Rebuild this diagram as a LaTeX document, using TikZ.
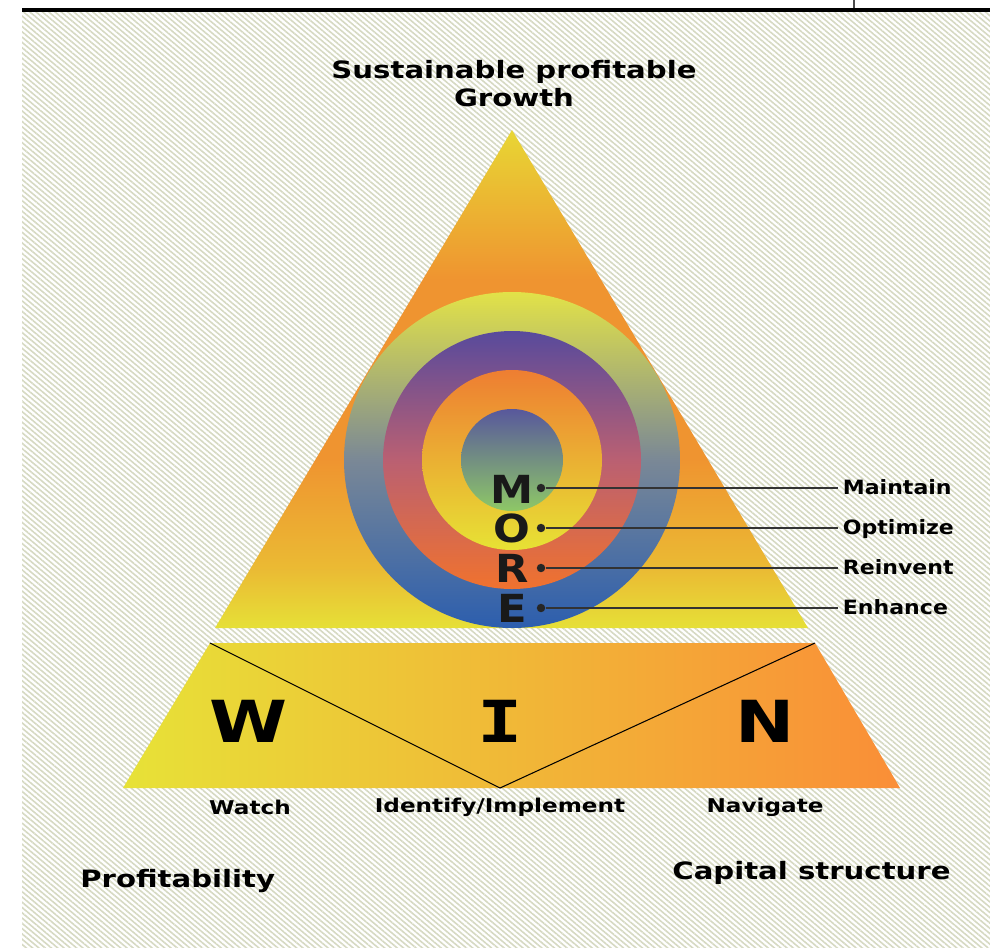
\documentclass[tikz,border=0pt]{standalone}
\usepackage{fontspec}
\setmainfont{DejaVu Sans}[FakeStretch=1.12]
\setmonofont{DejaVu Sans Mono}[FakeStretch=1.3]
\newfontfamily\widefont{DejaVu Sans}[FakeStretch=1.22]
\usetikzlibrary{patterns.meta}

\definecolor{hatch}{RGB}{214,217,194}
\definecolor{triY}{RGB}{232,214,52}
\definecolor{triO}{RGB}{239,148,48}
\definecolor{triB}{RGB}{230,224,55}
\definecolor{trapL}{RGB}{231,226,55}
\definecolor{trapR}{RGB}{250,142,55}
\definecolor{oneT}{RGB}{226,226,72}
\definecolor{oneM}{RGB}{122,136,150}
\definecolor{oneB}{RGB}{44,94,174}
\definecolor{twoT}{RGB}{88,74,156}
\definecolor{twoM}{RGB}{186,96,114}
\definecolor{twoB}{RGB}{240,114,46}
\definecolor{thrT}{RGB}{238,126,50}
\definecolor{thrB}{RGB}{231,226,52}
\definecolor{forT}{RGB}{88,88,156}
\definecolor{forB}{RGB}{142,200,102}
\pgfdeclareverticalshading{pyramid}{100bp}{color(0bp)=(triB); color(25bp)=(triB);
  color(31bp)=(triB!50!triO); color(42bp)=(triO); color(60bp)=(triO);
  color(69bp)=(triY!60!triO); color(75bp)=(triY); color(100bp)=(triY)}

\begin{document}
\begin{tikzpicture}[x=0.02cm,y=-0.02cm,
  big/.style={font=\widefont\fontsize{13.6pt}{16pt}\selectfont\bfseries,align=center},
  lbl/.style={font=\fontsize{11.2pt}{13pt}\selectfont\bfseries,anchor=west,
    inner sep=2.6pt,text height=0.73em,text depth=0pt},
  sub/.style={font=\widefont\fontsize{10.8pt}{12pt}\selectfont\bfseries},
  letter/.style={font=\fontsize{22pt}{24pt}\selectfont\bfseries,text=black!90,inner sep=0pt},
  win/.style={font=\widefont\fontsize{33pt}{35pt}\selectfont\bfseries,inner sep=0pt},
  dot/.style={circle,fill=black!85,inner sep=1.7pt}]
\useasboundingbox (0,0) rectangle (990,947);
\fill[white] (0,0) rectangle (990,947);
\fill[pattern={Lines[angle=-40,distance=2.3pt,line width=0.9pt]},pattern color=hatch]
  (22,12) rectangle (990,947);
\fill[black] (22,8) rectangle (990,12);
\draw[black!70,line width=0.8pt] (854,0) -- (854,8);

% pyramid
\shade[shading=pyramid] (512,130) -- (808,628) -- (215,628) -- cycle;
\coordinate (tl) at (210,643);
\coordinate (tr) at (815,643);
\coordinate (bm) at (500,788);
\shade[left color=trapL,right color=trapR]
  (tl) -- (tr) -- (900,788) -- (123,788) -- cycle;
\draw[line width=0.6pt] (tl) -- (bm) -- (tr);

% rings
\shade[top color=oneT,bottom color=oneB,middle color=oneM] (512,460) circle (168);
\shade[top color=twoT,bottom color=twoB,middle color=twoM] (512,460) circle (129);
\shade[top color=thrT,bottom color=thrB] (512,460) circle (90);
\shade[top color=forT,bottom color=forB] (512,460) circle (51);

\node[big] (goal) at (514,84) {Sustainable profitable\\Growth};

\node[letter] (m) at (512,489) {M};
\node[letter] (o) at (512,528) {O};
\node[letter] (r) at (512,568) {R};
\node[letter] (e) at (512,608) {E};

\node[dot] (dm) at (541,488) {};
\node[dot] (do) at (541,528) {};
\node[dot] (dr) at (541,568) {};
\node[dot] (de) at (541,608) {};
\node[lbl] (maintain) at (838,488) {Maintain};
\node[lbl] (optimize) at (838,528) {Optimize};
\node[lbl] (reinvent) at (838,568) {Reinvent};
\node[lbl] (enhance) at (838,608) {Enhance};
\foreach \a/\b in {dm/maintain,do/optimize,dr/reinvent,de/enhance}
  \draw[black!80,line width=0.6pt] (\a) -- (\b.west);

\node[win] (w) at (249,721) {W};
\node[win] (i) at (500,721) {\ttfamily\bfseries I};
\node[win] (n) at (765,721) {N};

\node[sub] (watch) at (250,807) {Watch};
\node[sub] (ident) at (500,807) {Identify/Implement};
\node[sub] (navig) at (765,807) {Navigate};

\node[big,anchor=west,inner sep=0pt] (profit) at (80,881) {Profitability};
\node[big,anchor=west,inner sep=0pt] (capital) at (672,873) {Capital structure};
\end{tikzpicture}
\end{document}
